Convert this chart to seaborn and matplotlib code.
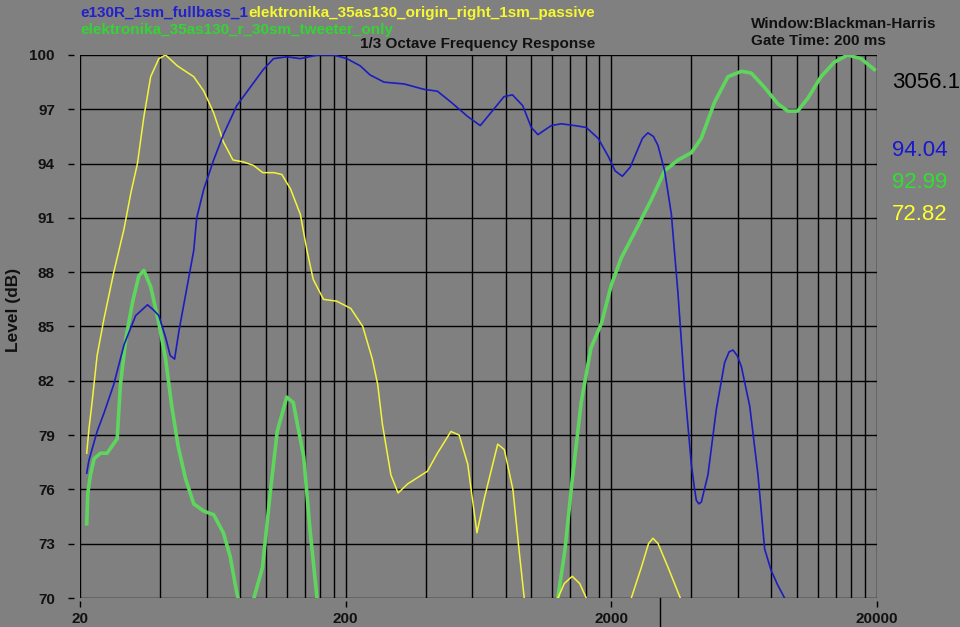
import numpy as np
import pandas as pd
import seaborn as sns
import matplotlib
matplotlib.use("Agg")
import matplotlib.pyplot as plt
from matplotlib.ticker import NullFormatter
from matplotlib import font_manager

# ---- data (Hz, dB); NaN = curve below 70 dB ----
blue_freq = [21.2, 21.6, 23.2, 24.6, 26.8, 29.3, 32.4, 35.9, 37.9, 39.6, 42.0, 43.7,
             45.4, 47.2, 50.6, 53.6, 55.0, 58.5, 63.7, 69.3, 77.8, 87.3, 98, 107, 120,
             135, 157, 180, 202, 227, 247, 279, 332, 395, 443, 498, 576, 642, 703, 789,
             849, 928, 999, 1059, 1188, 1295, 1455, 1608, 1783, 1948, 2066, 2200, 2355,
             2500, 2620, 2746, 2880, 2997, 3175, 3365, 3565, 3776, 4000, 4100, 4177, 4270,
             4362, 4620, 4966, 5338, 5550, 5740, 5950, 6170, 6637, 7130, 7555, 8000, 8470,
             8975, 9500]
blue_level = [76.9, 77.6, 79.2, 80.2, 81.8, 84.0, 85.6, 86.2, 85.9, 85.6, 84.4, 83.4,
              83.2, 84.8, 87.2, 89.2, 91.0, 92.6, 94.2, 95.6, 97.2, 98.2, 99.2, 99.8, 99.9,
              99.8, 100.0, 100.0, 99.8, 99.4, 98.9, 98.5, 98.4, 98.1, 98.0, 97.4, 96.6, 96.1,
              96.8, 97.7, 97.8, 97.2, 96.0, 95.6, 96.1, 96.2, 96.1, 96.0, 95.4, 94.4, 93.6,
              93.3, 93.8, 94.7, 95.4, 95.7, 95.5, 95.0, 93.6, 91.2, 86.8, 81.6, 77.4, 76.2,
              75.4, 75.2, 75.3, 76.8, 80.4, 83.0, 83.6, 83.7, 83.4, 82.8, 80.6, 76.8, 72.7,
              71.5, 70.7, 70.0, 69.0]

yellow_freq = [21.2, 21.6, 22.2, 23.2, 24.6, 26.8, 29.3, 31.1, 32.9, 34.8, 36.9, 39.6,
               42.0, 46.5, 53.6, 58.5, 63.7, 69.3, 75.3, 82, 90, 97.5, 107.5, 115, 124,
               135, 143, 151, 165, 185, 209, 232, 252, 264, 275, 296, 315, 342, 406, 443,
               498, 535, 576, 624, 665, 747, 791, 852, 904, 940, 960, np.nan,
               1250, 1259, 1330, 1425, 1520, 1610, 1630, np.nan,
               2350, 2378, 2595, 2760, 2868, 3000, 3268, 3636, 3680]
yellow_level = [78.0, 79.3, 80.8, 83.4, 85.4, 88.0, 90.4, 92.4, 94.0, 96.6, 98.8, 99.8,
                100.0, 99.4, 98.8, 98.0, 96.8, 95.2, 94.2, 94.1, 93.9, 93.5, 93.5, 93.4,
                92.6, 91.2, 89.2, 87.6, 86.5, 86.4, 86.0, 85.0, 83.2, 81.8, 79.6, 76.8,
                75.8, 76.3, 77.0, 78.0, 79.2, 79.0, 77.4, 73.6, 75.5, 78.5, 78.2, 76.0,
                72.3, 70.0, 68.5, np.nan,
                69.5, 70.0, 70.8, 71.2, 70.8, 70.0, 69.6, np.nan,
                69.5, 70.0, 71.7, 73.0, 73.3, 73.0, 71.7, 70.0, 69.5]

green_freq = [21.2, 21.4, 21.9, 22.6, 23.9, 25.3, 27.6, 28.4, 29.8, 31.6, 33.3, 34.8,
              36.9, 39.6, 42.0, 44.3, 46.8, 49.9, 53.6, 58.5, 63.7, 69.3, 73.5, 76.9,
              78.6, 80, np.nan,
              88, 90.3, 97.3, 104, 110.5, 120, 127, 139, 147, 156, 160, np.nan,
              1230, 1259, 1339, 1422, 1540, 1675, 1838, 2000, 2181, 2447, 2826, 3175,
              3565, 4000, 4362, 4895, 5495, 6170, 6730, 7555, 8475, 9234, 10050, 10967,
              12310, 13810, 15500, 17400, 19530]
green_level = [74.1, 75.8, 76.8, 77.7, 78.0, 78.0, 78.8, 81.8, 84.4, 86.4, 87.8, 88.1,
               87.2, 85.2, 83.2, 80.6, 78.4, 76.6, 75.2, 74.8, 74.6, 73.6, 72.3, 70.7,
               70.0, 69.3, np.nan,
               69.3, 70.0, 71.7, 75.8, 79.2, 81.1, 80.8, 77.8, 73.7, 70.0, 69.0, np.nan,
               69.0, 70.0, 72.7, 76.4, 80.8, 83.8, 85.2, 87.3, 88.8, 90.2, 92.0, 93.6,
               94.2, 94.6, 95.4, 97.4, 98.8, 99.1, 99.0, 98.2, 97.3, 96.9, 96.9, 97.6,
               98.8, 99.6, 100.0, 99.8, 99.2]

series_names = ["e130R_1sm_fullbass_1",
                "elektronika_35as130_origin_right_1sm_passive",
                "elektronika_35as130_r_30sm_tweeter_only"]
cursor_freq = 3056.1
cursor_values = ["94.04", "92.99", "72.82"]

y_ticks = list(range(70, 101, 3))
x_major = [20, 200, 2000, 20000]
x_grid = [m * d for d in (10, 100, 1000) for m in (2, 4, 6, 8, 10, 12, 14, 16, 18)] + [20000]

BG = "#808080"
BLUE = "#1c1cc0"
YELLOW = "#f4f43a"
GREEN = "#5ed65e"


def to_frame(freq, level):
    df = pd.DataFrame({"freq": freq, "level": level})
    df["seg"] = df["freq"].isna().cumsum()
    return df.dropna()


plt.rcParams["font.family"] = ["Liberation Sans", "DejaVu Sans"]

# narrow face for the big readouts, if there is one
installed = {f.name for f in font_manager.fontManager.ttflist}
narrow = "Liberation Sans Narrow" if "Liberation Sans Narrow" in installed else "Liberation Sans"
big_size = 19 if narrow == "Liberation Sans Narrow" else 16

fig = plt.figure(figsize=(9.6, 6.27), dpi=100, facecolor=BG)
ax = fig.add_axes([80 / 960, 1 - 598 / 627, 797 / 960, 543 / 627])
ax.set_facecolor(BG)

for freq, level, col, lw, z in [(green_freq, green_level, GREEN, 2.6, 3),
                                (yellow_freq, yellow_level, YELLOW, 1.1, 4),
                                (blue_freq, blue_level, BLUE, 1.2, 5)]:
    sns.lineplot(data=to_frame(freq, level), x="freq", y="level", units="seg",
                 estimator=None, color=col, lw=lw, ax=ax, zorder=z, sort=False)

ax.set_xscale("log")
ax.set_xlim(20, 20000)
ax.set_ylim(70, 100)

ax.set_xticks(x_major)
ax.set_xticklabels([str(v) for v in x_major])
ax.set_xticks(x_grid, minor=True)
ax.xaxis.set_minor_formatter(NullFormatter())
ax.set_yticks(y_ticks)
ax.set_yticklabels([str(v) for v in y_ticks])
ax.grid(True, which="both", axis="x", color="black", lw=1.0, zorder=1)
ax.grid(True, which="major", axis="y", color="black", lw=1.0, zorder=1)
ax.set_axisbelow(True)

for s in ax.spines.values():
    s.set_visible(False)
ax.spines["left"].set_position(("outward", 4))
ax.spines["bottom"].set_position(("outward", 2))
ax.tick_params(axis="y", length=4, width=1, color="black", pad=10,
               labelsize=11, labelcolor="#111111")
ax.tick_params(axis="x", which="major", length=4, width=1, color="black", pad=4,
               labelsize=11, labelcolor="#111111")
ax.tick_params(axis="x", which="minor", length=0)
for lab in ax.get_xticklabels() + ax.get_yticklabels():
    lab.set_fontweight("bold")
ax.set_xlabel("")
ax.set_ylabel("")

# cursor marker below the plot
ax.axvline(cursor_freq, ymin=-0.06, ymax=0, color="black", lw=1, clip_on=False)

# header texts
hdr = dict(fontsize=11, fontweight="bold", va="center", ha="left")
fig.text(80 / 960, 1 - 13 / 627, series_names[0], color="#2222c8", **hdr)
fig.text(248 / 960, 1 - 13 / 627, series_names[1], color="#f8f830", **hdr)
fig.text(80 / 960, 1 - 30 / 627, series_names[2], color="#33d433", **hdr)
fig.text(478 / 960, 1 - 44 / 627, "1/3 Octave Frequency Response", color="#111111",
         fontsize=11, fontweight="bold", va="center", ha="center")
fig.text(751 / 960, 1 - 24 / 627, "Window:Blackman-Harris", color="#111111", **hdr)
fig.text(751 / 960, 1 - 41 / 627, "Gate Time: 200 ms", color="#111111", **hdr)
fig.text(14 / 960, 1 - 310 / 627, "Level (dB)", color="#111111", fontsize=12.5,
         fontweight="bold", rotation=90, va="center", ha="center")

# cursor readouts on the right
fig.text(892 / 960, 1 - 82 / 627, f"{cursor_freq:.1f}", color="black",
         fontsize=big_size, family=narrow, va="center", ha="left")
for txt, col, yy in zip(cursor_values, ["#1818d0", "#30e030", "#ffff30"], [150, 182, 215]):
    fig.text(892 / 960, 1 - yy / 627, txt, color=col, fontsize=big_size, family=narrow,
             va="center", ha="left")

fig.savefig("out.png", dpi=100, facecolor=BG)
